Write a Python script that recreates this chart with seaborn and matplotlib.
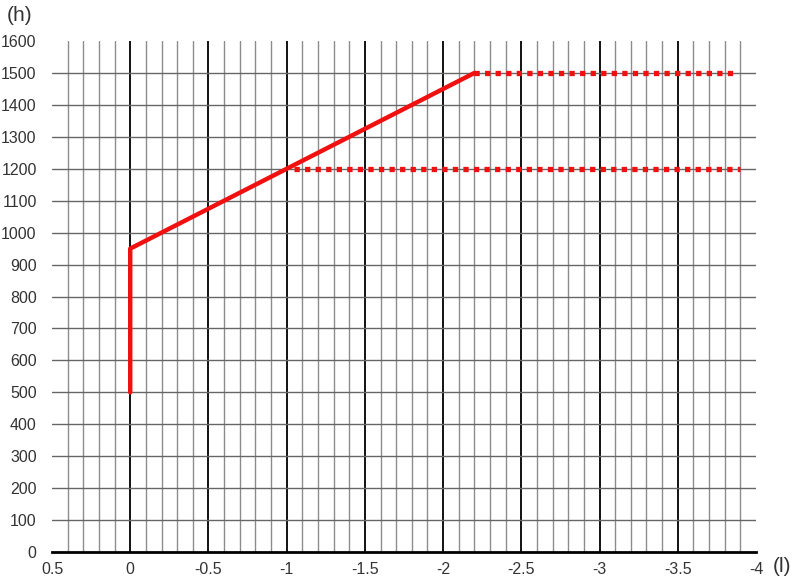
import numpy as np
import pandas as pd
import matplotlib
matplotlib.use("Agg")
import matplotlib.pyplot as plt
import seaborn as sns

# === Data ===
solid_x = [0, 0, -2.2]
solid_y = [500, 950, 1500]
upper_x = [-2.2, -3.85]
upper_y = [1500, 1500]
lower_x = [-1.05, -3.9]
lower_y = [1200, 1200]
x_ticks = [0.5, 0, -0.5, -1, -1.5, -2, -2.5, -3, -3.5, -4]
x_labels = ["0.5", "0", "-0.5", "-1", "-1.5", "-2", "-2.5", "-3", "-3.5", "-4"]
y_ticks = list(range(0, 1700, 100))

sns.set_style("white")
plt.rcParams["font.family"] = ["Liberation Sans", "DejaVu Sans"]

fig = plt.figure(figsize=(8, 5.82), dpi=100)
ax = fig.add_axes([0.065, 0.0515, 0.88, 0.878])

# === Grid ===
for v in np.round(np.arange(0.4, -3.95, -0.1), 2):
    major = abs(v * 2 - round(v * 2)) < 1e-6
    ax.plot([v, v], [0, 1600], color="#111111" if major else "#8c8c8c",
            lw=1.4 if major else 1.0, zorder=1)
for h in range(100, 1600, 100):
    ax.plot([0.5, -4], [h, h], color="#666666", lw=1.0, zorder=1)

# === Lines ===
red = "#f01010"
sns.lineplot(x=solid_x, y=solid_y, sort=False, estimator=None, color=red, lw=3.2,
             ax=ax, zorder=3)
sns.lineplot(x=upper_x, y=upper_y, sort=False, estimator=None, color=red, lw=3.8,
             linestyle=(0, (1, 1)), ax=ax, zorder=3)
sns.lineplot(x=lower_x, y=lower_y, sort=False, estimator=None, color=red, lw=3.8,
             linestyle=(0, (1, 1)), ax=ax, zorder=3)

ax.set_xlim(0.5, -4)
ax.set_ylim(0, 1600)
ax.set_xticks(x_ticks)
ax.set_xticklabels(x_labels)
ax.set_yticks(y_ticks)
for s in ["left", "right", "top"]:
    ax.spines[s].set_visible(False)
ax.spines["bottom"].set_color("black")
ax.spines["bottom"].set_linewidth(2)
ax.spines["bottom"].set_zorder(4)
ax.tick_params(axis="x", direction="inout", length=7, width=1.5, color="black",
               labelsize=11.5, pad=4, labelcolor="#333333")
ax.tick_params(axis="y", length=0, labelsize=11.5, pad=11, labelcolor="#333333")
ax.set_xlabel("")
ax.set_ylabel("")

fig.text(0.008, 0.973, "(h)", fontsize=15, color="#333333", ha="left", va="center")
fig.text(0.966, 0.026, "(l)", fontsize=15, color="#333333", ha="left", va="center")

fig.savefig("out.png", dpi=100)
